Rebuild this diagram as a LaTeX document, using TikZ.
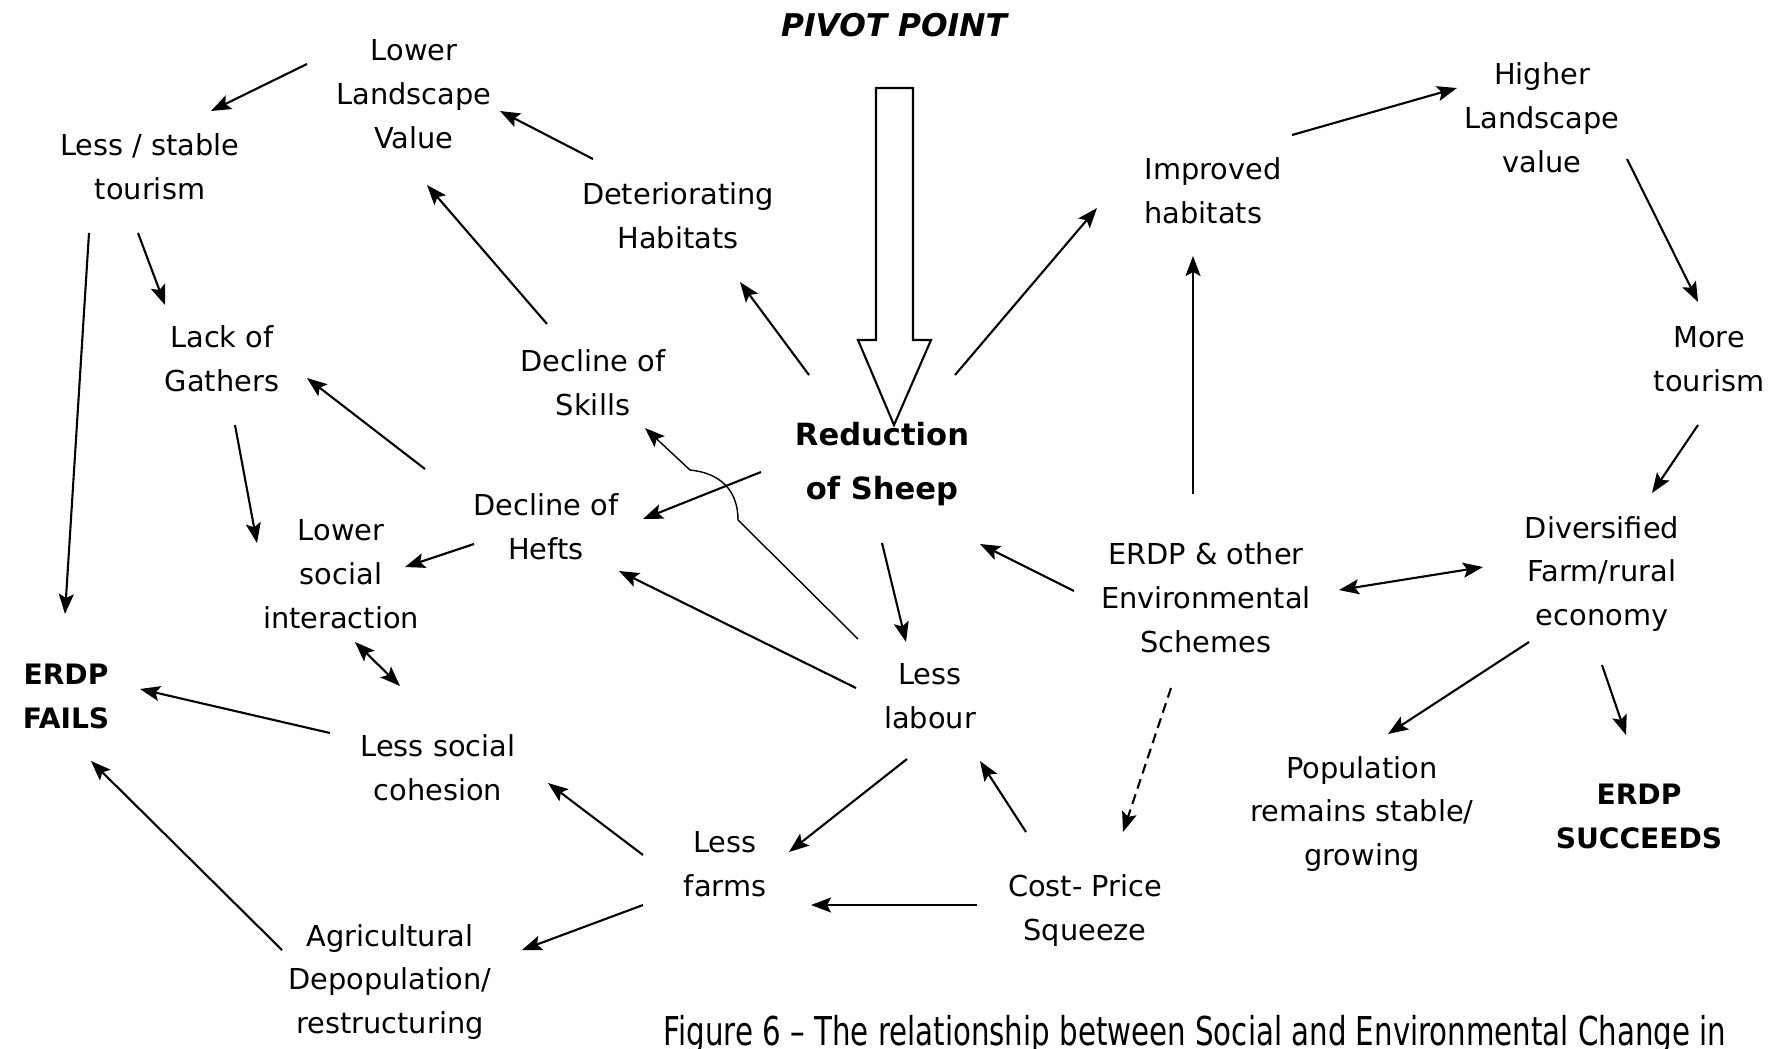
\documentclass[tikz,border=0pt]{standalone}
\usepackage{fontspec}
\setmainfont{DejaVu Sans}
\usepackage{graphicx}
\usetikzlibrary{arrows.meta,calc}

\begin{document}
\begin{tikzpicture}[x=0.01cm, y=-0.01cm,
        txt/.style={align=center, inner sep=0pt, font=\fontsize{8.2}{12.5}\selectfont},
        boldtxt/.style={align=center, inner sep=0pt, font=\bfseries\fontsize{8}{12.5}\selectfont},
        arr/.style={-{Stealth[length=0.2cm, width=0.15cm, inset=0.04cm]}, line width=0.6pt},
        arrtwo/.style={{Stealth[length=0.2cm, width=0.15cm, inset=0.04cm]}-{Stealth[length=0.2cm, width=0.15cm, inset=0.04cm]}, line width=0.6pt}]
            \useasboundingbox (0,0) rectangle (1782,1048);

            % middle
            \node [boldtxt, font=\bfseries\itshape\fontsize{8.9}{12.5}\selectfont] (pivot) at (894,25) {PIVOT POINT};
            \node [boldtxt, font=\bfseries\fontsize{8.7}{15.1}\selectfont] (reduction) at (882,464) {Reduction\\of Sheep};
            \draw [line width=0.6pt] (876,88) -- (913,88) -- (913,340) -- (931,340) -- (894,425) -- (858,340) -- (876,340) -- cycle;

            % left side
            \node [txt] (lowland) at (414,94) {Lower\\Landscape\\Value};
            \node [txt] (tourism) at (150,167) {Less / stable\\tourism};
            \node [txt] (deter) at (678,216) {Deteriorating\\Habitats};
            \node [txt] (gathers) at (222,359) {Lack of\\Gathers};
            \node [txt] (skills) at (593,383) {Decline of\\Skills};
            \node [txt] (hefts) at (546,527) {Decline of\\Hefts};
            \node [txt] (social) at (341,574) {Lower\\social\\interaction};
            \node [boldtxt] (fails) at (66,696) {ERDP\\FAILS};
            \node [txt] (cohesion) at (438,768) {Less social\\cohesion};
            \node [txt] (labour) at (930,696) {Less\\labour};
            \node [txt] (farms) at (725,864) {Less\\farms};
            \node [txt] (agri) at (390,982) {Agricultural\\Depopulation/\\restructuring};
            \node [txt] (squeeze) at (1085,911) {Cost- Price\\Squeeze};

            % right side
            \node [txt] (erdp) at (1206,598) {ERDP \& other\\Environmental\\Schemes};
            \node [txt, align=left] (improved) at (1213,191) {Improved\\habitats};
            \node [txt] (higher) at (1542,118) {Higher\\Landscape\\value};
            \node [txt] (moretour) at (1709,359) {More\\tourism};
            \node [txt] (divers) at (1602,574) {Diversified\\Farm/rural\\economy};
            \node [txt] (popul) at (1362,814) {Population\\remains stable/\\growing};
            \node [boldtxt] (succeeds) at (1639,816) {ERDP\\SUCCEEDS};

            \node [anchor=base west, inner sep=0pt] (caption) at (663,1045) {\resizebox{10.62cm}{\height}{\fontsize{11.3}{13}\selectfont Figure 6 – The relationship between Social and Environmental Change in}};

            % arrows, left
            \draw [arr] ($(lowland)+(-107,-30)$) -- ($(tourism)+(61,-56)$);
            \draw [arr] ($(deter)+(-85,-57)$) -- ($(lowland)+(86,17)$);
            \draw [arr] ($(skills)+(-46,-59)$) -- ($(lowland)+(13,91)$);
            \draw [arr] ($(reduction)+(-73,-89)$) -- ($(deter)+(62,66)$);
            \draw [arr] ($(tourism)+(-12,66)$) -- ($(gathers)+(-57,-54)$);
            \draw [arr] ($(tourism)+(-61,66)$) -- ($(fails)+(-1,-82)$);
            \draw [arr] ($(hefts)+(-121,-58)$) -- ($(gathers)+(85,19)$);
            \draw [arr] ($(gathers)+(13,66)$) -- ($(social)+(-84,-31)$);
            \draw [arr] ($(hefts)+(-72,17)$) -- ($(social)+(64,-7)$);
            \draw [arrtwo] ($(social)+(14,68)$) -- ($(cohesion)+(-38,-82)$);
            \draw [arr] ($(cohesion)+(-108,-35)$) -- ($(fails)+(74,-7)$);
            \draw [arr] ($(agri)+(-108,-32)$) -- ($(fails)+(25,65)$);
            \draw [arr] ($(reduction)+(-121,8)$) -- ($(hefts)+(97,-8)$);
            \draw [arr, line width=0.4pt] ($(labour)+(-72,-57)$) -- ++(-120,-119)
                .. controls +(0,-30) and +(30,3) .. ++(-48,-50) -- ($(skills)+(52,45)$);
            \draw [arr] ($(labour)+(-74,-8)$) -- ($(hefts)+(73,44)$);
            \draw [arr] ($(reduction)+(0,79)$) -- ($(labour)+(-24,-54)$);

            % arrows, right
            \draw [arr] ($(reduction)+(73,-89)$) -- ($(improved)+(-116,17)$);
            \draw [arr] ($(improved)+(79,-56)$) -- ($(higher)+(-85,-30)$);
            \draw [arr] ($(higher)+(85,41)$) -- ($(moretour)+(-11,-57)$);
            \draw [arr] ($(moretour)+(-11,66)$) -- ($(divers)+(50,-81)$);
            \draw [arr] ($(erdp)+(-13,-104)$) -- ($(improved)+(-20,65)$);
            \draw [arr] ($(erdp)+(-132,-7)$) -- ($(reduction)+(98,80)$);
            \draw [arrtwo] ($(erdp)+(133,-8)$) -- ($(divers)+(-119,-7)$);
            \draw [arr, dash pattern=on 0.1cm off 0.06cm] ($(erdp)+(-35,90)$) -- ($(squeeze)+(38,-79)$);
            \draw [arr] ($(divers)+(-73,68)$) -- ($(popul)+(26,-80)$);
            \draw [arr] ($(divers)+(0,91)$) -- ($(succeeds)+(-13,-81)$);

            % arrows, bottom
            \draw [arr] ($(squeeze)+(-59,-79)$) -- ($(labour)+(50,65)$);
            \draw [arr] ($(squeeze)+(-108,-6)$) -- ($(farms)+(86,41)$);
            \draw [arr] ($(labour)+(-23,63)$) -- ($(farms)+(64,-12)$);
            \draw [arr] ($(farms)+(-82,-9)$) -- ($(cohesion)+(110,15)$);
            \draw [arr] ($(farms)+(-82,41)$) -- ($(agri)+(132,-32)$);

        \end{tikzpicture}
\end{document}
